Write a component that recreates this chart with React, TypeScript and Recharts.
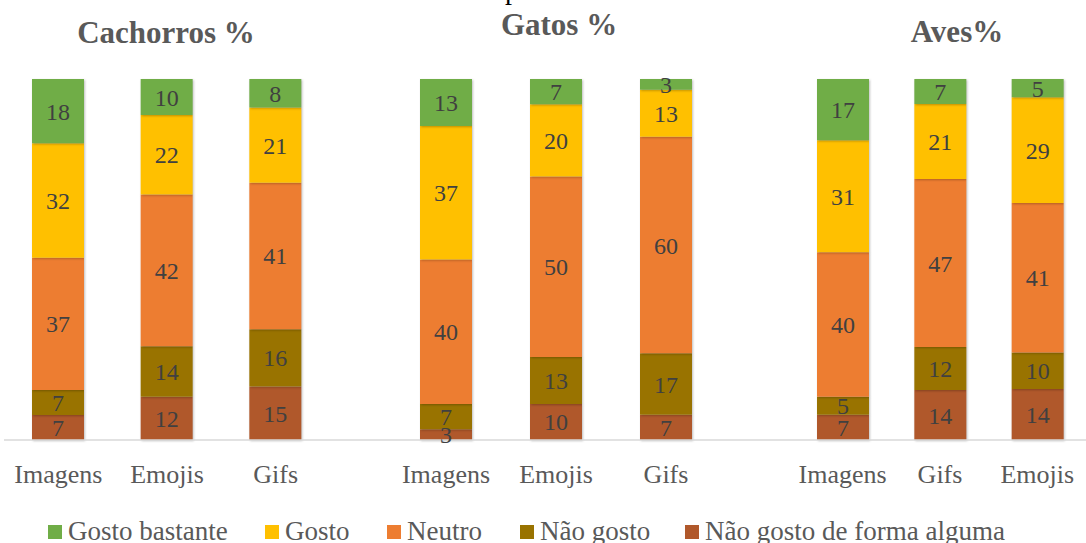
import React from 'react';
import { BarChart, Bar, XAxis, YAxis, LabelList } from 'recharts';

// series, bottom of the stack first
const seriesKeys = ['nadaGosto', 'naoGosto', 'neutro', 'gosto', 'gostoBastante'];
const seriesNames = ['Não gosto de forma alguma', 'Não gosto', 'Neutro', 'Gosto', 'Gosto bastante'];
const seriesColors = ['#B0582B', '#997300', '#ED7D31', '#FFC000', '#70AD47'];

const cachorrosCategorias = ['Imagens', 'Emojis', 'Gifs'];
const cachorrosGostoBastante = [18, 10, 8];
const cachorrosGosto = [32, 22, 21];
const cachorrosNeutro = [37, 42, 41];
const cachorrosNaoGosto = [7, 14, 16];
const cachorrosNadaGosto = [7, 12, 15];

const gatosCategorias = ['Imagens', 'Emojis', 'Gifs'];
const gatosGostoBastante = [13, 7, 3];
const gatosGosto = [37, 20, 13];
const gatosNeutro = [40, 50, 60];
const gatosNaoGosto = [7, 13, 17];
const gatosNadaGosto = [3, 10, 7];

const avesCategorias = ['Imagens', 'Gifs', 'Emojis'];
const avesGostoBastante = [17, 7, 5];
const avesGosto = [31, 21, 29];
const avesNeutro = [40, 47, 41];
const avesNaoGosto = [5, 12, 10];
const avesNadaGosto = [7, 14, 14];

const FONT = '"Liberation Serif", "Times New Roman", serif';
const GREY = '#595959';

function buildRows(cats: string[], gb: number[], g: number[], n: number[], ng: number[], nada: number[]) {
  return cats.map((categoria, i) => ({
    categoria,
    gostoBastante: gb[i],
    gosto: g[i],
    neutro: n[i],
    naoGosto: ng[i],
    nadaGosto: nada[i],
  }));
}

const CategoryTick = (props: any) => {
  const { x, y, payload } = props;
  return (
    <text x={x} y={y} dy={43} textAnchor="middle" fill={GREY} fontSize={26} fontFamily={FONT}>
      {payload.value}
    </text>
  );
};

type PanelProps = {
  rows: any[];
  left: number;
  width: number;
  marginLeft: number;
  padLeft: number;
  padRight: number;
};

function Panel({ rows, left, width, marginLeft, padLeft, padRight }: PanelProps) {
  return (
    <div style={{ position: 'absolute', left, top: 0 }}>
      <BarChart
        width={width}
        height={543}
        data={rows}
        stackOffset="expand"
        margin={{ top: 79, right: 0, bottom: 43, left: marginLeft }}
      >
        <XAxis
          dataKey="categoria"
          interval={0}
          height={60}
          tickLine={false}
          tickSize={0}
          tickMargin={0}
          axisLine={{ stroke: '#D9D9D9', strokeWidth: 1.5 }}
          padding={{ left: padLeft, right: padRight }}
          tick={<CategoryTick />}
        />
        <YAxis hide domain={[0, 1]} />
        {seriesKeys.map((key, i) => (
          <Bar
            key={key}
            dataKey={key}
            name={seriesNames[i]}
            stackId="a"
            fill={seriesColors[i]}
            barSize={52}
            isAnimationActive={false}
          >
            <LabelList
              dataKey={key}
              position="center"
              fill="#404040"
              fontSize={24}
              fontFamily={FONT}
            />
          </Bar>
        ))}
      </BarChart>
    </div>
  );
}

const titleStyle = (cx: number, top: number): React.CSSProperties => ({
  position: 'absolute',
  left: cx - 200,
  top,
  width: 400,
  textAlign: 'center',
  fontFamily: FONT,
  fontWeight: 'bold',
  fontSize: 31,
  lineHeight: '31px',
  color: GREY,
});

// legend entries top of the stack first, with the x where each swatch starts
const legendOrder = [4, 3, 2, 1, 0];
const legendX = [48, 265, 387, 520, 685];

export default function App() {
  const cachorros = buildRows(cachorrosCategorias, cachorrosGostoBastante, cachorrosGosto, cachorrosNeutro, cachorrosNaoGosto, cachorrosNadaGosto);
  const gatos = buildRows(gatosCategorias, gatosGostoBastante, gatosGosto, gatosNeutro, gatosNaoGosto, gatosNadaGosto);
  const aves = buildRows(avesCategorias, avesGostoBastante, avesGosto, avesNeutro, avesNaoGosto, avesNadaGosto);

  return (
    <div
      style={{
        position: 'absolute',
        left: 0,
        top: 0,
        width: 1086,
        height: 543,
        overflow: 'hidden',
        background: '#fff',
      }}
    >
      <style>{`.recharts-bar { filter: drop-shadow(1px 1px 1px rgba(0,0,0,0.25)); }`}</style>
      <div style={{ position: 'absolute', left: 505, top: -24, fontFamily: FONT, fontSize: 28, lineHeight: '28px', color: '#000' }}>
        p
      </div>
      <div style={titleStyle(166, 17)}>Cachorros %</div>
      <div style={titleStyle(559, 9)}>Gatos %</div>
      <div style={titleStyle(957, 16)}>Aves%</div>

      <Panel rows={cachorros} left={0} width={358} marginLeft={4} padLeft={0} padRight={28} />
      <Panel rows={gatos} left={358} width={392} marginLeft={0} padLeft={33} padRight={29} />
      <Panel rows={aves} left={750} width={336} marginLeft={0} padLeft={44} padRight={0} />

      {legendOrder.map((i, k) => (
        <div
          key={seriesKeys[i]}
          style={{
            position: 'absolute',
            left: legendX[k],
            top: 518,
            display: 'flex',
            alignItems: 'center',
            fontFamily: FONT,
            fontSize: 27,
            lineHeight: '27px',
            color: GREY,
            whiteSpace: 'nowrap',
          }}
        >
          <span style={{ width: 14, height: 14, background: seriesColors[i], marginRight: 6, display: 'inline-block' }} />
          <span>{seriesNames[i]}</span>
        </div>
      ))}
    </div>
  );
}
